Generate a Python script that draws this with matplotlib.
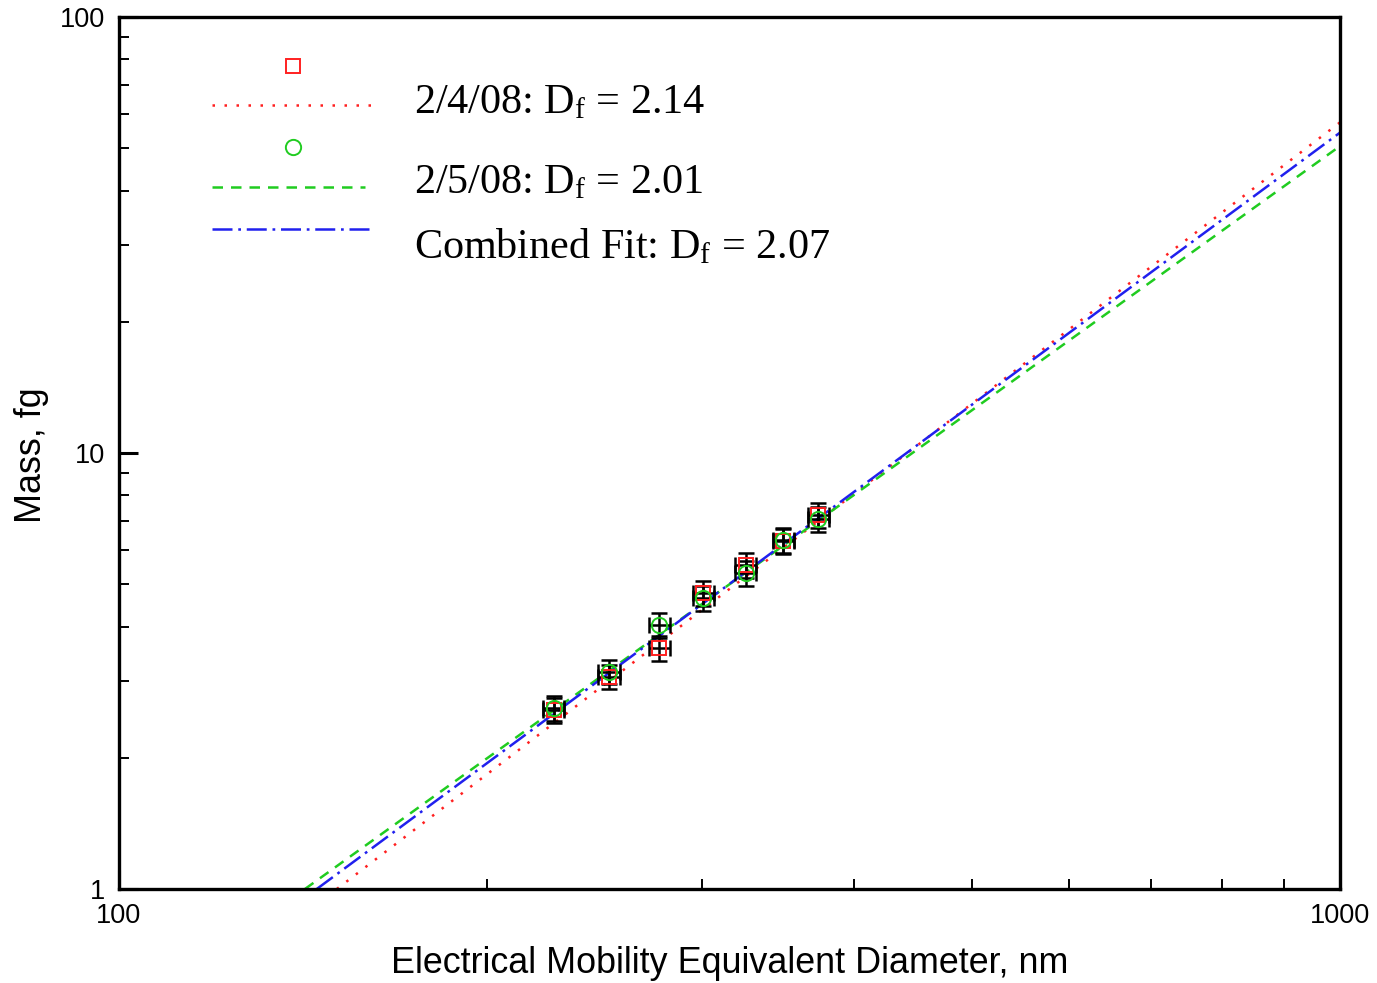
import matplotlib as mpl
mpl.use('Agg')
import matplotlib.pyplot as plt
import numpy as np
from matplotlib.ticker import LogLocator, NullFormatter, FixedLocator, FixedFormatter

plt.rcParams['font.family'] = 'Liberation Sans'
plt.rcParams['mathtext.fontset'] = 'custom'
plt.rcParams['mathtext.rm'] = 'Liberation Serif'
plt.rcParams['mathtext.it'] = 'Liberation Serif:italic'

# mobility diameter (nm) and particle mass (fg)
diam = [227, 252, 277, 301, 326, 350, 374]
mass_0204 = [2.57, 3.07, 3.57, 4.77, 5.54, 6.28, 7.21]
mass_0205 = [2.60, 3.15, 4.03, 4.65, 5.30, 6.32, 7.05]

# power-law fits m = (d / d0) ** Df
fit_labels = ['2/4/08', '2/5/08', 'Combined Fit']
fit_df = [2.14, 2.01, 2.07]
fit_d0 = [150.8, 142.0, 145.2]

xerr_frac = 0.02
yerr_frac = 0.065

fig = plt.figure(figsize=(13.77, 9.83), dpi=100)
ax = fig.add_axes([0.0864, 0.0956, 0.8867, 0.8871])
ax.set_xscale('log')
ax.set_yscale('log')
ax.set_xlim(100, 1000)
ax.set_ylim(1, 100)

styles = [dict(color='#ff2020', dashes=(1, 3.8)),
          dict(color='#20cc20', dashes=(4.2, 3.2)),
          dict(color='#2020ee', dashes=(8, 2.3, 1.1, 2.3))]

for df, d0, st in zip(fit_df, fit_d0, styles):
    d = np.linspace(d0, 1000, 200)
    ax.plot(d, (d / d0) ** df, lw=1.8, **st)

d = np.array(diam)
for m in (mass_0204, mass_0205):
    m = np.array(m)
    ax.errorbar(d, m, xerr=d * xerr_frac, yerr=m * yerr_frac, fmt='none',
                ecolor='black', elinewidth=1.8, capsize=6, capthick=1.8, zorder=3)
ax.plot(d, mass_0204, 's', ms=10, mfc='none', mec='#ff2020', mew=1.4, zorder=4)
ax.plot(d, mass_0205, 'o', ms=11, mfc='none', mec='#20cc20', mew=1.4, zorder=5)

# hand-drawn key in axes fraction
tr = ax.transAxes
ax.plot([0.1425], [0.9438], 's', ms=10, mfc='none', mec='#ff2020', mew=1.4, transform=tr)
ax.plot([0.0762, 0.2072], [0.899, 0.899], lw=1.8, transform=tr, **styles[0])
ax.plot([0.1425], [0.8509], 'o', ms=11, mfc='none', mec='#20cc20', mew=1.4, transform=tr)
ax.plot([0.0762, 0.2015], [0.805, 0.805], lw=1.8, transform=tr, **styles[1])
ax.plot([0.0762, 0.2072], [0.7569, 0.7569], lw=1.8, transform=tr, **styles[2])
for lab, df, yb in zip(fit_labels, fit_df, [0.8899, 0.7982, 0.7236]):
    ax.text(0.2416, yb, lab + r': D$_{\mathrm{f}}$ = ' + f'{df:.2f}',
            transform=tr, va='baseline', ha='left', fontsize=30.3,
            family='Liberation Serif')

for s in ax.spines.values():
    s.set_linewidth(2.4)

ax.xaxis.set_major_locator(FixedLocator([100, 1000]))
ax.xaxis.set_major_formatter(FixedFormatter(['100', '1000']))
ax.xaxis.set_minor_locator(LogLocator(base=10, subs=np.arange(2, 10)))
ax.xaxis.set_minor_formatter(NullFormatter())
ax.yaxis.set_major_locator(FixedLocator([1, 10, 100]))
ax.yaxis.set_major_formatter(FixedFormatter(['1', '10', '100']))
ax.yaxis.set_minor_locator(LogLocator(base=10, subs=np.arange(2, 10)))
ax.yaxis.set_minor_formatter(NullFormatter())
ax.tick_params(which='both', direction='in', top=False, right=False,
               labelsize=19.5, pad=10)
ax.tick_params(which='major', length=14, width=2.2)
ax.tick_params(which='minor', length=7, width=1.4)

ax.set_xlabel('Electrical Mobility Equivalent Diameter, nm', fontsize=25.8, labelpad=12)
ax.set_ylabel('Mass, fg', fontsize=25.8, va='center', ha='center')
ax.yaxis.set_label_coords(-0.072, 0.498)

fig.savefig('out.png', dpi=100)
